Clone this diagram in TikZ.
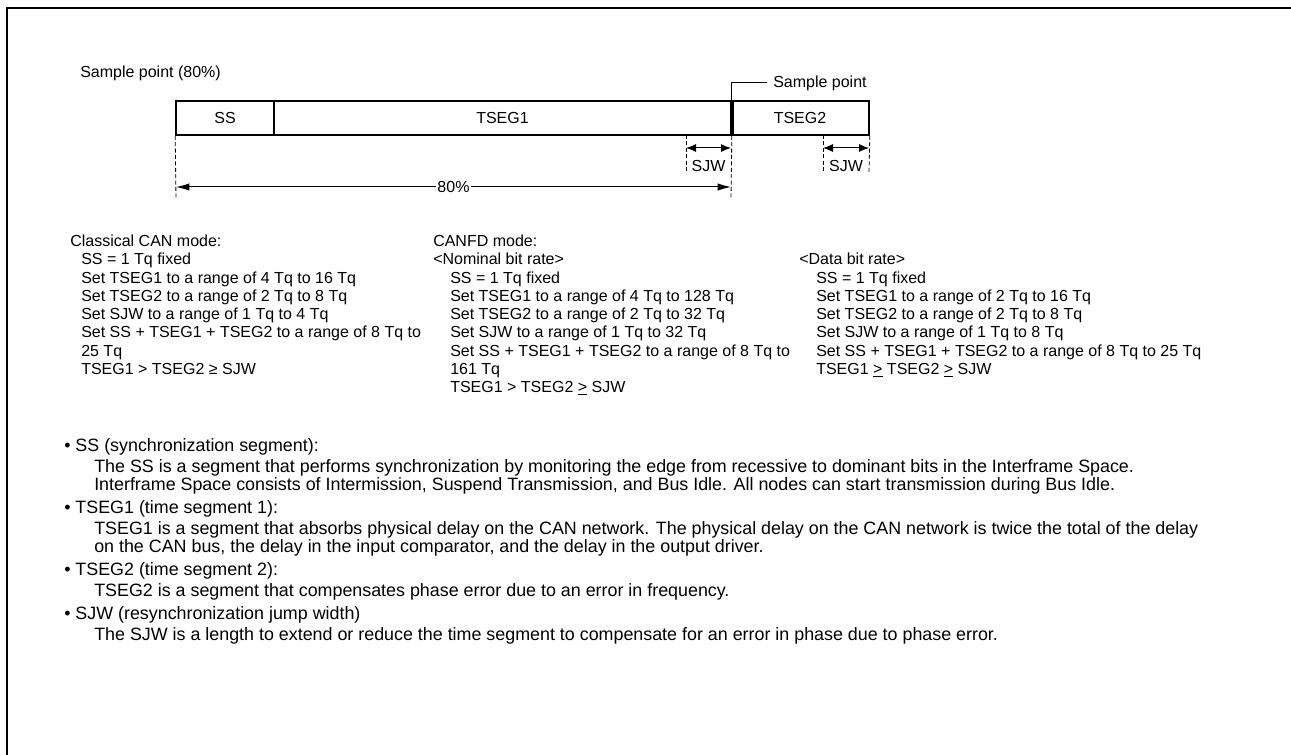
\documentclass[tikz,border=0pt]{standalone}
\usepackage{fontspec}
\setmainfont{Liberation Sans}
\usetikzlibrary{arrows.meta}
\tikzset{
  txt/.style={anchor=base west,inner sep=0pt},
  desc/.style={anchor=base west,inner sep=0pt,font=\fontsize{13.4}{15}\selectfont},
  seg/.style={draw,line width=1.2pt,minimum height=25.5pt,inner sep=0pt},
  dashln/.style={line width=0.6pt,dash pattern=on 3pt off 1.8pt},
  dimarrow/.style={line width=0.75pt,{Latex[length=7.5pt,width=6pt]}-{Latex[length=7.5pt,width=6pt]}},
  longarrow/.style={line width=0.75pt,{Latex[length=10pt,width=5.5pt]}-{Latex[length=10pt,width=5.5pt]}}
}

\begin{document}
\begin{tikzpicture}[x=0.75pt,y=-0.75pt,font=\fontsize{12}{13.65}\selectfont]
\path[use as bounding box] (0,0) rectangle (1291,755);
\draw[line width=1.9pt] (7,755) -- (7,8) -- (1291,8);
\node[txt] (title) at (80,78) {Sample point (80\%)};
% bit time
\node[seg,minimum width=73.5pt] (ss) at (225,118) {SS};
\node[seg,minimum width=342.75pt] (tsegA) at (502.5,118) {TSEG1};
\node[seg,minimum width=103.5pt] (tsegB) at (800,118) {TSEG2};
\draw[line width=3pt] (tsegA.north east) -- (tsegA.south east);
\node[anchor=west,inner xsep=4.5pt,inner ysep=0pt] (spnt) at (767,83) {Sample point};
\draw[line width=0.75pt] (tsegA.north east) |- (spnt.west);
\coordinate (pctL) at (176,200);
\coordinate (pctR) at (731,200);
\coordinate (jwA) at (686,135);
\coordinate (jwAb) at (686,172);
\coordinate (jwC) at (823,135);
\coordinate (jwCb) at (823,172);
\coordinate (jwDb) at (869,172);
\draw[dashln] (ss.south west) -- (pctL);
\draw[dashln] (tsegA.south east) -- (pctR);
\draw[dashln] (jwA) -- (jwAb);
\draw[dashln] (jwC) -- (jwCb);
\draw[dashln] (tsegB.south east) -- (jwDb);
\coordinate (ja) at (686,148);
\coordinate (jb) at (731,148);
\coordinate (jc) at (823,148);
\coordinate (jd) at (869,148);
\coordinate (pa) at (176,187);
\coordinate (pb) at (731,187);
\draw[dimarrow] (ja) -- (jb);
\draw[dimarrow] (jc) -- (jd);
\draw[longarrow] (pa) -- (pb) node[midway,fill=white,inner sep=1pt] (pct) {80\%};
\node (sjwA) at (708.5,166) {SJW};
\node (sjwB) at (846,166) {SJW};
% settings
\node[txt] (clsHead) at (70,246.8) {Classical CAN mode:};
\foreach \t [count=\i] in {SS = 1 Tq fixed,
    Set TSEG1 to a range of 4 Tq to 16 Tq,
    Set TSEG2 to a range of 2 Tq to 8 Tq,
    Set SJW to a range of 1 Tq to 4 Tq,
    Set SS + TSEG1 + TSEG2 to a range of 8 Tq to,
    25 Tq,
    TSEG1 > TSEG2 ≥ SJW}
  \node[txt] (cls\i) at (81,246.8+18.2*\i) {\t};
\node[txt] (fdHead) at (433,246.8) {CANFD mode:};
\node[txt] (nomHead) at (433,265) {<Nominal bit rate>};
\foreach \t [count=\i] in {SS = 1 Tq fixed,
    Set TSEG1 to a range of 4 Tq to 128 Tq,
    Set TSEG2 to a range of 2 Tq to 32 Tq,
    Set SJW to a range of 1 Tq to 32 Tq,
    Set SS + TSEG1 + TSEG2 to a range of 8 Tq to,
    161 Tq,
    {TSEG1 > TSEG2 \underline{>} SJW}}
  \node[txt] (nom\i) at (450,265+18.2*\i) {\t};
\node[txt] (datHead) at (799,265) {<Data bit rate>};
\foreach \t [count=\i] in {SS = 1 Tq fixed,
    Set TSEG1 to a range of 2 Tq to 16 Tq,
    Set TSEG2 to a range of 2 Tq to 8 Tq,
    Set SJW to a range of 1 Tq to 8 Tq,
    Set SS + TSEG1 + TSEG2 to a range of 8 Tq to 25 Tq,
    {TSEG1 \underline{>} TSEG2 \underline{>} SJW}}
  \node[txt] (dat\i) at (816,265+18.2*\i) {\t};
% descriptions
\node[desc] (bSS) at (64,451.5) {• SS (synchronization segment):};
\node[desc] (bSS1) at (94,472.5) {The SS is a segment that performs synchronization by monitoring the edge from recessive to dominant bits in the Interframe Space.};
\node[desc] (bSS2) at (94,490.5) {Interframe Space consists of Intermission, Suspend Transmission, and Bus Idle. All nodes can start transmission during Bus Idle.};
\node[desc] (bTA) at (64,513.5) {• TSEG1 (time segment 1):};
\node[desc] (bTA1) at (94,534.5) {TSEG1 is a segment that absorbs physical delay on the CAN network. The physical delay on the CAN network is twice the total of the delay};
\node[desc] (bTA2) at (94,552.5) {on the CAN bus, the delay in the input comparator, and the delay in the output driver.};
\node[desc] (bTB) at (64,575.5) {• TSEG2 (time segment 2):};
\node[desc] (bTB1) at (94,596.5) {TSEG2 is a segment that compensates phase error due to an error in frequency.};
\node[desc] (bJW) at (64,619.5) {• SJW (resynchronization jump width)};
\node[desc] (bJW1) at (94,640.5) {The SJW is a length to extend or reduce the time segment to compensate for an error in phase due to phase error.};
\end{tikzpicture}
\end{document}
